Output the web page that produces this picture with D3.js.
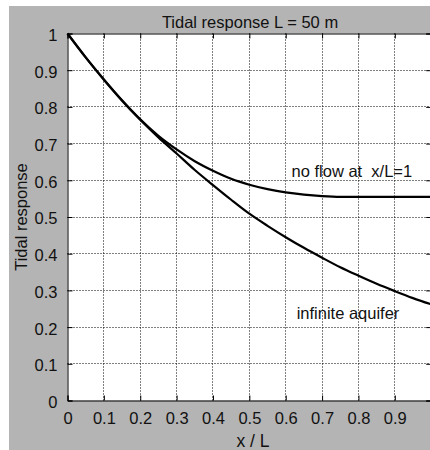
<!DOCTYPE html>
<html>
<head>
<meta charset="utf-8">
<script src="https://cdn.jsdelivr.net/npm/d3@7"></script>
<style>
  html, body { margin: 0; padding: 0; background: #fff; }
  svg { display: block; }
  text { font-family: "Liberation Sans", Arial, sans-serif; fill: #111; }
</style>
</head>
<body>
<div id="chart"></div>
<script>
// x / L positions where the curves were read
var xs = [0, 0.05, 0.1, 0.15, 0.2, 0.25, 0.3, 0.35, 0.4, 0.45, 0.5,
          0.55, 0.6, 0.65, 0.7, 0.75, 0.8, 0.85, 0.9, 0.95, 1.0];
// tidal response, infinite aquifer
var infiniteAquifer = [1.0, 0.935, 0.874, 0.817, 0.765, 0.717, 0.673, 0.628, 0.587, 0.547, 0.509,
                       0.476, 0.445, 0.416, 0.389, 0.363, 0.340, 0.318, 0.298, 0.279, 0.262];
// tidal response, no flow boundary at x/L = 1
var noFlow = [1.0, 0.935, 0.875, 0.818, 0.766, 0.721, 0.684, 0.652, 0.626, 0.604, 0.588,
              0.576, 0.567, 0.561, 0.557, 0.555, 0.555, 0.555, 0.555, 0.555, 0.555];

var xTicks = [0, 0.1, 0.2, 0.3, 0.4, 0.5, 0.6, 0.7, 0.8, 0.9];
var yTicks = [0, 0.1, 0.2, 0.3, 0.4, 0.5, 0.6, 0.7, 0.8, 0.9, 1];

var labels = [
  { text: "no flow at  x/L=1", x: 0.616, y: 0.609 },
  { text: "infinite aquifer", x: 0.630, y: 0.223 }
];

var W = 430, H = 450;
var margin = { top: 33.5, left: 67.5 };
var width = 363.7, height = 367;

var svg = d3.select("#chart").append("svg")
  .attr("width", W)
  .attr("height", H);

// figure background
svg.append("rect")
  .attr("x", 9).attr("y", 6)
  .attr("width", W - 9).attr("height", H - 6)
  .attr("fill", "#b4b4b4");

var g = svg.append("g")
  .attr("transform", "translate(" + margin.left + "," + margin.top + ")");

var xScale = d3.scaleLinear().domain([0, 1]).range([0, width]);
var yScale = d3.scaleLinear().domain([0, 1]).range([height, 0]);

var px = function(v) { return Math.round(xScale(v)); };
var py = function(v) { return Math.round(yScale(v)); };

// plot area
g.append("rect")
  .attr("x", 0).attr("y", 0)
  .attr("width", width).attr("height", height)
  .attr("fill", "#fff");

// dotted grid
g.selectAll(".vgrid")
  .data(xTicks.filter(function(d) { return d > 0; }))
  .enter().append("line")
  .attr("class", "vgrid")
  .attr("x1", px).attr("x2", px)
  .attr("y1", 0).attr("y2", height)
  .attr("stroke", "#000")
  .attr("stroke-width", 1)
  .attr("stroke-dasharray", "1,2");

g.selectAll(".hgrid")
  .data(yTicks.filter(function(d) { return d > 0 && d < 1; }))
  .enter().append("line")
  .attr("class", "hgrid")
  .attr("y1", py).attr("y2", py)
  .attr("x1", 0).attr("x2", width)
  .attr("stroke", "#000")
  .attr("stroke-width", 1)
  .attr("stroke-dasharray", "1,2");

// curves
var line = d3.line()
  .x(function(d) { return xScale(d[0]); })
  .y(function(d) { return yScale(d[1]); })
  .curve(d3.curveMonotoneX);

[infiniteAquifer, noFlow].forEach(function(series) {
  g.append("path")
    .datum(xs.map(function(x, i) { return [x, series[i]]; }))
    .attr("d", line)
    .attr("fill", "none")
    .attr("stroke", "#000")
    .attr("stroke-width", 2.2)
    .attr("stroke-linejoin", "round");
});

// axes (ticks point inward, mirrored on top / right)
var tick = 5;
var xAxis = d3.axisBottom(xScale).tickValues(xTicks).tickSize(-tick).tickPadding(12)
  .tickFormat(d3.format("~g"));
var yAxis = d3.axisLeft(yScale).tickValues(yTicks).tickSize(-tick).tickPadding(10)
  .tickFormat(d3.format("~g"));

var gx = g.append("g").attr("transform", "translate(0," + height + ")").call(xAxis);
var gy = g.append("g").call(yAxis);

g.append("g").call(d3.axisTop(xScale).tickValues(xTicks).tickSize(-tick).tickFormat(""));
g.append("g").attr("transform", "translate(" + width + ",0)")
  .call(d3.axisRight(yScale).tickValues(yTicks).tickSize(-tick).tickFormat(""));

g.selectAll(".domain").attr("stroke", "#000").attr("stroke-width", 1);
g.selectAll(".tick line").attr("stroke", "#000");
g.selectAll(".tick text")
  .style("font-family", '"Liberation Sans", Arial, sans-serif')
  .style("font-size", "16.5px")
  .attr("fill", "#111");
gx.selectAll(".tick text").attr("dy", "0.71em");
gy.selectAll(".tick text").attr("dy", "0.42em");

// annotations
g.selectAll(".note")
  .data(labels)
  .enter().append("text")
  .attr("class", "note")
  .attr("x", function(d) { return xScale(d.x); })
  .attr("y", function(d) { return yScale(d.y); })
  .style("font-size", "16.5px")
  .style("white-space", "pre")
  .text(function(d) { return d.text; });

// title and axis labels
svg.append("text")
  .attr("x", 250).attr("y", 28)
  .attr("text-anchor", "middle")
  .style("font-size", "16.5px")
  .text("Tidal response L = 50 m");

svg.append("text")
  .attr("x", 253).attr("y", 447)
  .attr("text-anchor", "middle")
  .style("font-size", "17.5px")
  .text("x / L");

svg.append("text")
  .attr("transform", "translate(27," + (margin.top + height / 2) + ") rotate(-90)")
  .attr("text-anchor", "middle")
  .style("font-size", "16.5px")
  .text("Tidal response");
</script>
</body>
</html>
